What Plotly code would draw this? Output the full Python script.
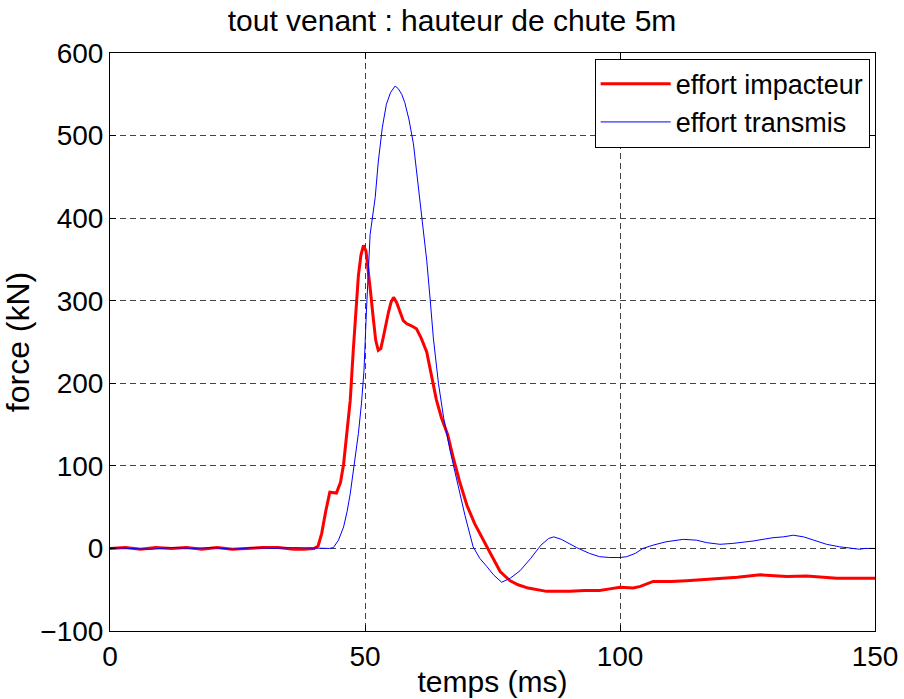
import plotly.graph_objects as go

# effort impacteur (red)
t_imp = [0, 3, 6, 9, 12, 15, 18, 21, 24, 27, 30, 33, 36, 38, 40, 40.8, 41.5, 42.3, 43.1, 44.4,
         45.2, 45.8, 46.5, 47.1, 47.7, 48.3, 48.7, 49.2, 49.7, 50.2, 50.6, 51.1, 51.6, 52.1,
         52.6, 53.1, 53.6, 54.1, 54.6, 55.1, 55.6, 56.2, 56.9, 57.5, 58.2, 59, 60.1, 61, 62.1,
         63, 64, 65, 66.2, 67.3, 68.5, 70, 71.5, 73.9, 76.5, 78.4, 80, 82, 85.6, 88, 90.2, 93,
         96, 98, 100, 102.6, 104, 106.5, 110, 113, 116, 119.6, 123, 127.5, 130, 132.7, 136.6,
         140, 142.5, 146, 150]
f_imp = [0, 1, -1, 1, 0, 1, -1, 1, -1, 0, 1, 1, -1, -1, 0, 3, 18, 45, 68, 67,
         80, 102, 140, 179, 240, 300, 330, 355, 367, 360, 340, 310, 280, 252,
         240, 242, 256, 272, 286, 298, 304, 298, 285, 276, 272, 270, 266, 255, 238,
         210, 180, 158, 138, 110, 82, 52, 30, 2, -28, -39, -44, -48, -52, -52, -52, -51,
         -51, -49, -47, -48, -46, -40, -40, -39, -38, -36, -35, -32, -33, -34, -33.5,
         -35, -36, -36, -36]

# effort transmis (blue)
t_tr = [0, 4, 8, 12, 16, 20, 24, 28, 32, 36, 40, 43, 43.8, 44.8, 45.8, 46.5, 47.1, 47.9, 48.7,
        49.3, 49.8, 50.3, 51, 52, 52.6, 53.4, 54.2, 55, 55.9, 56.5, 57.2, 57.8, 58.6, 59.5,
        60.2, 60.8, 61.4, 62.1, 62.8, 63.4, 64.4, 65.4, 66.7, 68, 69.6, 71.2, 72.5, 73.9,
        75.2, 76.8, 78.5, 80.4, 82.5, 84.5, 86, 87, 88.5, 91.5, 94, 96, 98, 100, 101.3, 103,
        104.5, 106.5, 109, 112.4, 115, 117, 119.6, 122, 126.1, 130, 132, 134, 136, 138,
        140.5, 143, 145.8, 147, 148, 150]
f_tr = [1, 0, -1, 1, 0, 1, -1, 1, 0, 1, 0, 0, 1, 10, 26, 45, 66, 100, 139,
        175, 215, 290, 380, 425, 468, 510, 538, 552, 560, 557, 550, 540, 520, 490,
        450, 417, 385, 349, 300, 255, 200, 159, 118, 82, 40, 2, -12, -22,
        -32, -41, -36, -27, -12, 4, 12, 14, 11, 1, -6, -10, -11, -11, -10, -6,
        0, 4, 8, 11, 10, 7, 5, 6, 9, 13, 14, 16, 14, 10,
        5, 2, 0, -1, 0, 0]

x_ticks = [0, 50, 100, 150]
y_ticks = [-100, 0, 100, 200, 300, 400, 500, 600]

FONT = "Liberation Sans, Arial, sans-serif"

fig = go.Figure()
fig.add_trace(go.Scatter(x=t_imp, y=f_imp, mode="lines", name="effort impacteur",
                         line=dict(color="#ff0000", width=3)))
fig.add_trace(go.Scatter(x=t_tr, y=f_tr, mode="lines", name="effort transmis",
                         line=dict(color="#0000ff", width=1)))

axis_common = dict(showline=True, linecolor="black", linewidth=1, mirror="ticks",
                   ticks="inside", ticklen=6, tickcolor="black", automargin=False,
                   showgrid=True, gridcolor="#444444", griddash="6px,4px", gridwidth=1,
                   zeroline=False, tickfont=dict(size=28, color="black", family=FONT))

fig.update_layout(
    width=904, height=699,
    margin=dict(l=110, r=29, t=53, b=68, autoexpand=False),
    paper_bgcolor="white", plot_bgcolor="white",
    font=dict(family=FONT, color="black"),
    title=dict(text="tout venant : hauteur de chute 5m", x=0.5, xanchor="center",
               y=0.971, yanchor="middle", font=dict(size=30, family=FONT, color="black")),
    xaxis=dict(range=[0, 150], tickvals=x_ticks,
               title=dict(text="temps (ms)", font=dict(size=30, family=FONT), standoff=0),
               **axis_common),
    yaxis=dict(range=[-100, 600], tickvals=y_ticks,
               title=dict(text="force (kN)", font=dict(size=32, family=FONT), standoff=2),
               **axis_common),
    legend=dict(x=0.993, y=0.99, xanchor="right", yanchor="top",
                bgcolor="white", bordercolor="black", borderwidth=1,
                font=dict(size=27, family=FONT, color="black"),
                itemwidth=70, tracegroupgap=0),
    showlegend=True,
)

fig.write_html("out.html")
